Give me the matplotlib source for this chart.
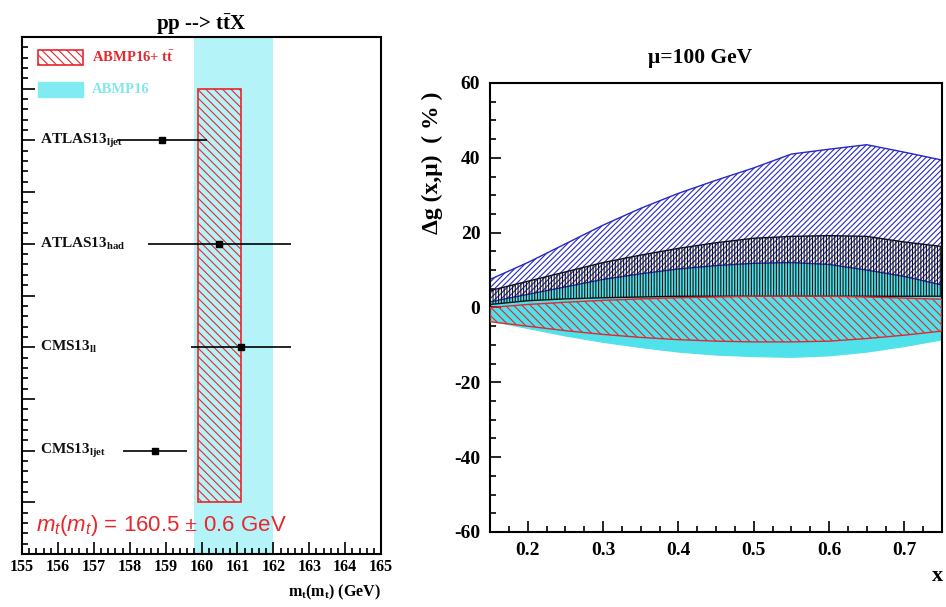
import numpy as np
import matplotlib
matplotlib.use("Agg")
import matplotlib.pyplot as plt
from matplotlib.patches import Rectangle
from matplotlib.ticker import MultipleLocator

plt.rcParams['font.family'] = ['Liberation Serif', 'DejaVu Serif']
plt.rcParams['font.weight'] = 'bold'
plt.rcParams['mathtext.fontset'] = 'custom'
plt.rcParams['mathtext.rm'] = 'Liberation Serif:bold'
plt.rcParams['mathtext.bf'] = 'Liberation Serif:bold'
plt.rcParams['mathtext.it'] = 'Liberation Sans:style=italic:weight=normal'
plt.rcParams['hatch.linewidth'] = 0.8
plt.rcParams['axes.unicode_minus'] = False

# ---- left panel data: top-quark mass measurements ----
experiments = [r'ATLAS13$_{\rm ljet}$', r'ATLAS13$_{\rm had}$',
               r'CMS13$_{\rm ll}$', r'CMS13$_{\rm ljet}$']
exp_pos = [8, 6, 4, 2]
mt_val = [158.9, 160.5, 161.1, 158.7]
mt_err = [1.25, 2.0, 1.4, 0.9]

fit_mt = 160.5        # ABMP16 + ttbar
fit_err = 0.6
abmp16_lo = 159.8     # ABMP16 band
abmp16_hi = 162.0

# ---- right panel data: gluon uncertainty at mu = 100 GeV ----
xg = [0.15, 0.2, 0.25, 0.3, 0.35, 0.4, 0.45, 0.5, 0.55, 0.6, 0.65, 0.7, 0.75]
blue_hi = [7.5, 12, 17, 22, 26.5, 30.5, 34, 37.3, 41, 42.3, 43.5, 41.5, 39.4]
blue_lo = [1.5, 3.5, 5.5, 7.5, 9, 10.3, 11.2, 11.8, 12, 11.5, 10, 8.3, 6]
black_hi = [4.5, 7, 9.5, 12, 14, 15.8, 17.3, 18.5, 19, 19.2, 19, 17.5, 16.3]
black_lo = [0.8, 1.8, 2.3, 2.6, 2.8, 3, 3, 3, 3, 3, 3, 3, 3]
cyan_hi = [1.5, 3.5, 5.5, 7.5, 9, 10.3, 11.2, 11.8, 12, 11.5, 10, 8.3, 6]
cyan_lo = [-3.5, -5.5, -7.5, -9.2, -10.6, -11.8, -12.6, -13, -13.2, -12.8, -11.8, -10.3, -8.5]
red_hi = [0, 0.8, 1.4, 1.9, 2.3, 2.6, 2.8, 3, 3, 3, 2.8, 2.5, 2.2]
red_lo = [-3.8, -5, -6.2, -7.2, -8, -8.6, -9, -9.2, -9.2, -9, -8.3, -7.4, -6.3]

fig = plt.figure(figsize=(9.46, 6.07), dpi=100)

# ================= left panel =================
ax1 = fig.add_axes([0.0233, 0.0873, 0.3795, 0.8517])
ax1.set_xlim(155, 165)
ax1.set_ylim(0, 10)
ax1.axvspan(abmp16_lo, abmp16_hi, color='#b4f3f7', lw=0, zorder=1)
ax1.add_patch(Rectangle((fit_mt - fit_err, 1), 2 * fit_err, 8, facecolor='none',
                        edgecolor='#e8262d', hatch='\\\\\\\\', lw=1.2, zorder=2))
ax1.errorbar(mt_val, exp_pos, xerr=mt_err, fmt='s', color='black', ms=4,
             elinewidth=1.2, capsize=0, zorder=3)
for name, yp in zip(experiments, exp_pos):
    ax1.text(155.5, yp, name, fontsize=11, fontweight='bold', va='center',
             ha='left', color='#111111')

# legend
ax1.add_patch(Rectangle((155.45, 9.46), 1.25, 0.29, facecolor='none',
                        edgecolor='#e8262d', hatch='\\\\\\\\', lw=1.2))
ax1.text(156.95, 9.61, r'ABMP16+ t$\bar{\rm t}$', fontsize=10.5,
         color='#e8262d', fontweight='bold', va='center')
ax1.add_patch(Rectangle((155.45, 8.84), 1.25, 0.29, facecolor='#80ecf2',
                        edgecolor='#80ecf2', lw=1))
ax1.text(156.95, 8.99, 'ABMP16', fontsize=10.5, color='#7fe8ee',
         fontweight='bold', va='center')

ax1.text(155.4, 0.56, r'$m_t$($m_t$) = 160.5 $\pm$ 0.6 GeV',
         fontsize=16, color='#e8262d', family='Liberation Sans',
         fontweight='normal', va='center')

ax1.xaxis.set_major_locator(MultipleLocator(1))
ax1.xaxis.set_minor_locator(MultipleLocator(0.2))
ax1.yaxis.set_major_locator(MultipleLocator(1))
ax1.yaxis.set_minor_locator(MultipleLocator(0.2))
ax1.tick_params(which='both', direction='in', top=False, right=False,
                labelsize=11.5, width=1.2)
ax1.tick_params(which='major', length=9)
ax1.tick_params(which='minor', length=4.5)
ax1.tick_params(axis='y', labelleft=False)
for lab in ax1.get_xticklabels():
    lab.set_fontweight('bold')
for sp in ax1.spines.values():
    sp.set_linewidth(1.5)
ax1.set_title(r'pp --> t$\bar{\rm t}$X', fontsize=15, fontweight='bold', pad=4)
fig.text(381 / 946, 1 - 592 / 607, r'm$_{\rm t}$(m$_{\rm t}$) (GeV)',
         fontsize=11.5, fontweight='bold', ha='right', va='center')

# ================= right panel =================
ax2 = fig.add_axes([0.518, 0.1236, 0.4778, 0.7397])
ax2.set_xlim(0.15, 0.75)
ax2.set_ylim(-60, 60)
ax2.fill_between(xg, cyan_lo, cyan_hi, facecolor='#50e2ea', edgecolor='#50e2ea',
                 lw=0.8, zorder=1)
ax2.fill_between(xg, blue_lo, blue_hi, facecolor='none', edgecolor='#2828c8',
                 hatch='//////', lw=1.0, zorder=2)
ax2.fill_between(xg, black_lo, black_hi, facecolor='none', edgecolor='#111111',
                 hatch='||||||', lw=1.0, zorder=3)
ax2.fill_between(xg, red_lo, red_hi, facecolor='none', edgecolor='#e02830',
                 hatch='\\\\\\\\', lw=1.0, zorder=4)

ax2.xaxis.set_major_locator(MultipleLocator(0.1))
ax2.xaxis.set_minor_locator(MultipleLocator(0.025))
ax2.yaxis.set_major_locator(MultipleLocator(20))
ax2.yaxis.set_minor_locator(MultipleLocator(5))
ax2.tick_params(which='both', direction='in', top=False, right=False,
                labelsize=14, width=1.2)
ax2.tick_params(which='major', length=8, pad=7)
ax2.tick_params(which='minor', length=4)
for lab in ax2.get_xticklabels() + ax2.get_yticklabels():
    lab.set_fontweight('bold')
for sp in ax2.spines.values():
    sp.set_linewidth(1.5)

fig.text(700 / 946, 1 - 58 / 607, '\u03bc=100 GeV', fontsize=15.5,
         fontweight='bold', ha='center', va='center')
fig.text(432 / 946, 1 - 163 / 607, '\u0394g (x,\u03bc)  ( % )', fontsize=17,
         fontweight='bold', rotation=90, ha='center', va='center')
fig.text(937 / 946, 1 - 576 / 607, 'x', fontsize=16, fontweight='bold',
         ha='center', va='center')

fig.savefig('out.png', dpi=100)
